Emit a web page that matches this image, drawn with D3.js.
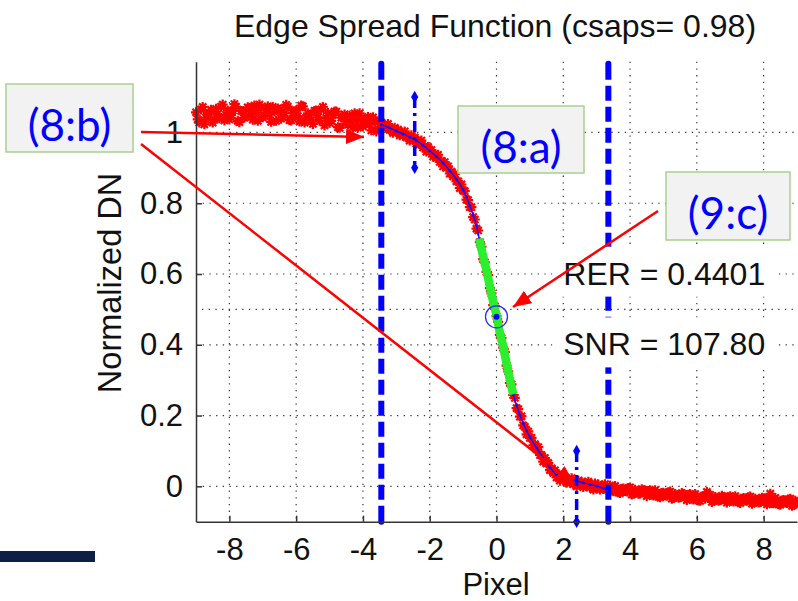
<!DOCTYPE html>
<html>
<head>
<meta charset="utf-8">
<script src="https://cdn.jsdelivr.net/npm/d3@7"></script>
<style>
  body { margin: 0; background: #fff; }
  svg { display: block; }
</style>
</head>
<body>
<svg id="chart" width="798" height="601"></svg>
<script>
// ── Data ──────────────────────────────────────────────────
const xTicks = [-8, -6, -4, -2, 0, 2, 4, 6, 8];
const xTickLabels = ["-8", "-6", "-4", "-2", "0", "2", "4", "6", "8"];
const yTicks = [0, 0.2, 0.4, 0.6, 0.8, 1];
const yTickLabels = ["0", "0.2", "0.4", "0.6", "0.8", "1"];

// noisy ESF samples, left plateau (two interleaved passes)
const esfLeftA = [
  [-9.0,1.057],[-8.9,1.028],[-8.8,1.072],[-8.7,1.042],[-8.6,1.052],[-8.5,1.028],[-8.4,1.067],[-8.3,1.040],
  [-8.2,1.079],[-8.1,1.050],[-8.0,1.037],[-7.9,1.062],[-7.8,1.073],[-7.7,1.029],[-7.6,1.060],[-7.5,1.046],
  [-7.4,1.069],[-7.3,1.036],[-7.2,1.057],[-7.1,1.079],[-7.0,1.043],[-6.9,1.063],[-6.8,1.051],[-6.7,1.072],
  [-6.6,1.033],[-6.5,1.064],[-6.4,1.045],[-6.3,1.078],[-6.2,1.035],[-6.1,1.055],[-6.0,1.062],[-5.9,1.031],
  [-5.8,1.074],[-5.7,1.042],[-5.6,1.050],[-5.5,1.024],[-5.4,1.062],[-5.3,1.033],[-5.2,1.072],[-5.1,1.041],
  [-5.0,1.027],[-4.9,1.050],[-4.8,1.059],[-4.7,1.013],[-4.6,1.043],[-4.5,1.026],[-4.4,1.048],[-4.3,1.014],
  [-4.2,1.033],[-4.1,1.054],[-4.0,1.017],[-3.9,1.036],[-3.8,1.023],[-3.7,1.043],[-3.6,1.003],[-3.5,1.033]
];
const esfLeftB = [
  [-8.95,1.037],[-8.85,1.065],[-8.75,1.023],[-8.65,1.053],[-8.55,1.064],[-8.45,1.037],[-8.35,1.052],[-8.25,1.073],
  [-8.15,1.034],[-8.05,1.062],[-7.95,1.049],[-7.85,1.080],[-7.75,1.033],[-7.65,1.061],[-7.55,1.042],[-7.45,1.071],
  [-7.35,1.054],[-7.25,1.076],[-7.15,1.033],[-7.05,1.069],[-6.95,1.047],[-6.85,1.074],[-6.75,1.030],[-6.65,1.059],
  [-6.55,1.068],[-6.45,1.039],[-6.35,1.054],[-6.25,1.073],[-6.15,1.034],[-6.05,1.060],[-5.95,1.046],[-5.85,1.076],
  [-5.75,1.028],[-5.65,1.054],[-5.55,1.034],[-5.45,1.061],[-5.35,1.043],[-5.25,1.065],[-5.15,1.020],[-5.05,1.055],
  [-4.95,1.033],[-4.85,1.059],[-4.75,1.015],[-4.65,1.042],[-4.55,1.051],[-4.45,1.022],[-4.35,1.035],[-4.25,1.054],
  [-4.15,1.014],[-4.05,1.040],[-3.95,1.026],[-3.85,1.044],[-3.75,1.006],[-3.65,1.031],[-3.55,1.011]
];
// edge transition
const esfMid = [
  [-3.45,1.028],[-3.40,1.012],[-3.35,1.021],[-3.30,1.013],[-3.25,1.024],[-3.20,1.007],[-3.15,1.012],[-3.10,0.999],
  [-3.05,1.013],[-3.00,1.002],[-2.95,1.008],[-2.90,0.992],[-2.85,1.001],[-2.80,0.992],[-2.75,1.003],[-2.70,0.986],
  [-2.65,0.990],[-2.60,0.977],[-2.55,0.992],[-2.50,0.980],[-2.45,0.986],[-2.40,0.969],[-2.35,0.977],[-2.30,0.967],
  [-2.25,0.977],[-2.20,0.958],[-2.15,0.961],[-2.10,0.946],[-2.05,0.959],[-2.00,0.946],[-1.95,0.950],[-1.90,0.932],
  [-1.85,0.939],[-1.80,0.928],[-1.75,0.937],[-1.70,0.917],[-1.65,0.920],[-1.60,0.904],[-1.55,0.916],[-1.50,0.901],
  [-1.45,0.904],[-1.40,0.884],[-1.35,0.889],[-1.30,0.876],[-1.25,0.883],[-1.20,0.862],[-1.15,0.862],[-1.10,0.843],
  [-1.05,0.853],[-1.00,0.836],[-0.95,0.834],[-0.90,0.810],[-0.85,0.809],[-0.80,0.789],[-0.75,0.789],[-0.70,0.761],
  [-0.65,0.754],[-0.60,0.728],[-0.55,0.723],[-0.50,0.690],[-0.45,0.677],[-0.40,0.642],[-0.35,0.633],[-0.30,0.606],
  [-0.25,0.597],[-0.20,0.560],[-0.15,0.545],[-0.10,0.512],[-0.05,0.509],[0.00,0.481],[0.05,0.465],[0.10,0.428],
  [0.15,0.419],[0.20,0.392],[0.25,0.380],[0.30,0.341],[0.35,0.325],[0.40,0.292],[0.45,0.288],[0.50,0.258],
  [0.55,0.250],[0.60,0.221],[0.65,0.218],[0.70,0.197],[0.75,0.198],[0.80,0.172],[0.85,0.168],[0.90,0.147],
  [0.95,0.155],[1.00,0.137],[1.05,0.137],[1.10,0.116],[1.15,0.119],[1.20,0.105],[1.25,0.111],[1.30,0.089],
  [1.35,0.088],[1.40,0.070],[1.45,0.080],[1.50,0.065],[1.55,0.066],[1.60,0.046],[1.65,0.051],[1.70,0.038],
  [1.75,0.045],[1.80,0.025],[1.85,0.030],[1.90,0.016],[1.95,0.031],[2.00,0.020],[2.05,0.026],[2.10,0.010],
  [2.15,0.019],[2.20,0.011],[2.25,0.023],[2.30,0.006],[2.35,0.012],[2.40,0.000],[2.45,0.016],[2.50,0.006],
  [2.55,0.013],[2.60,-0.002],[2.65,0.008],[2.70,0.000],[2.75,0.013],[2.80,-0.003],[2.85,0.003],[2.90,-0.009],
  [2.95,0.008],[3.00,-0.002],[3.05,0.005],[3.10,-0.009],[3.15,0.001],[3.20,-0.007],[3.25,0.006],[3.30,-0.010]
];
// right plateau (two interleaved passes)
const esfRightA = [
  [3.4,0.002],[3.5,-0.014],[3.6,-0.007],[3.7,-0.019],[3.8,-0.006],[3.9,-0.015],[4.0,-0.003],[4.1,-0.021],
  [4.2,-0.014],[4.3,-0.020],[4.4,-0.011],[4.5,-0.028],[4.6,-0.011],[4.7,-0.026],[4.8,-0.019],[4.9,-0.031],
  [5.0,-0.018],[5.1,-0.027],[5.2,-0.015],[5.3,-0.033],[5.4,-0.025],[5.5,-0.031],[5.6,-0.022],[5.7,-0.039],
  [5.8,-0.022],[5.9,-0.037],[6.0,-0.030],[6.1,-0.041],[6.2,-0.028],[6.3,-0.016],[6.4,-0.024],[6.5,-0.041],
  [6.6,-0.034],[6.7,-0.039],[6.8,-0.030],[6.9,-0.046],[7.0,-0.028],[7.1,-0.043],[7.2,-0.035],[7.3,-0.047],
  [7.4,-0.033],[7.5,-0.041],[7.6,-0.029],[7.7,-0.046],[7.8,-0.039],[7.9,-0.044],[8.0,-0.034],[8.1,-0.051],
  [8.2,-0.021],[8.3,-0.048],[8.4,-0.041],[8.5,-0.052],[8.6,-0.039],[8.7,-0.047],[8.8,-0.035],[8.9,-0.052],
  [9.0,-0.045]
];
const esfRightB = [
  [3.45,-0.012],[3.55,0.001],[3.65,-0.017],[3.75,-0.007],[3.85,-0.013],[3.95,-0.005],[4.05,-0.023],[4.15,-0.010],
  [4.25,-0.021],[4.35,-0.008],[4.45,-0.018],[4.55,-0.013],[4.65,-0.024],[4.75,-0.011],[4.85,-0.029],[4.95,-0.019],
  [5.05,-0.025],[5.15,-0.017],[5.25,-0.035],[5.35,-0.022],[5.45,-0.032],[5.55,-0.019],[5.65,-0.029],[5.75,-0.024],
  [5.85,-0.035],[5.95,-0.022],[6.05,-0.040],[6.15,-0.029],[6.25,-0.035],[6.35,-0.026],[6.45,-0.044],[6.55,-0.030],
  [6.65,-0.041],[6.75,-0.027],[6.85,-0.037],[6.95,-0.031],[7.05,-0.041],[7.15,-0.028],[7.25,-0.045],[7.35,-0.035],
  [7.45,-0.040],[7.55,-0.031],[7.65,-0.049],[7.75,-0.035],[7.85,-0.046],[7.95,-0.032],[8.05,-0.041],[8.15,-0.036],
  [8.25,-0.047],[8.35,-0.033],[8.45,-0.051],[8.55,-0.040],[8.65,-0.046],[8.75,-0.037],[8.85,-0.055],[8.95,-0.041]
];

// smoothing-spline fit (blue) between the two edge limits
const fitX = [-3.45,-3.2,-3.0,-2.8,-2.6,-2.4,-2.2,-2.0,-1.8,-1.6,-1.4,-1.2,-1.0,-0.9,-0.8,-0.7,-0.6,-0.5,-0.4,-0.3,
  -0.2,-0.1,0,0.1,0.2,0.3,0.4,0.5,0.6,0.7,0.8,0.9,1.0,1.2,1.4,1.6,1.8,2.0,2.2,2.4,2.6,2.8,3.0,3.2,3.35];
const fitY = [1.022,1.013,1.004,0.996,0.987,0.977,0.964,0.948,0.932,0.914,0.892,0.868,0.838,0.818,0.793,0.767,0.738,0.692,0.650,0.610,
  0.566,0.522,0.483,0.436,0.396,0.347,0.302,0.260,0.229,0.201,0.178,0.157,0.139,0.109,0.080,0.054,0.031,0.022,0.019,0.015,0.010,0.005,0.001,-0.005,-0.009];

// green slope segment used for RER
const slopeX = [-0.52,-0.5,-0.4,-0.3,-0.2,-0.1,0,0.1,0.2,0.3,0.4,0.5];
const slopeY = [0.700,0.692,0.650,0.610,0.566,0.522,0.483,0.436,0.396,0.347,0.302,0.260];

// edge limits (thick dashed) and ±0.1 markers (dash-dot)
const edgeLimits = [-3.45, 3.35];
const checkMarks = [{ x: -2.45, y0: 0.9, y1: 1.1 }, { x: 2.4, y0: -0.1, y1: 0.1 }];
const midPoint = { x: 0, y: 0.479 };

const metricLabels = ["RER = 0.4401", "SNR = 107.80"];
const metricY = [0.57, 0.37];

// ── Setup ─────────────────────────────────────────────────
const svg = d3.select("#chart");
const FONT = "'Liberation Sans', Arial, Helvetica, sans-serif";

const x = d3.scaleLinear().domain([-9, 9]).range([196, 797]);
const y = d3.scaleLinear().domain([-0.1, 1.2]).range([521.7, 61.7]);
const [x0, x1] = x.range();
const [yb, yt] = y.range();

// ── Dotted grid ──────────────────────────────────────────
const grid = svg.append("g").attr("stroke", "#333").attr("stroke-width", 1.2)
  .attr("stroke-dasharray", "1.3,5.4");
xTicks.forEach(t => grid.append("line")
  .attr("x1", x(t)).attr("x2", x(t)).attr("y1", yt).attr("y2", yb));
yTicks.forEach(t => grid.append("line")
  .attr("x1", x0).attr("x2", x1).attr("y1", y(t)).attr("y2", y(t)));
// 50% reference line
grid.append("line").attr("x1", x0 + 6).attr("x2", x1)
  .attr("y1", y(0.5)).attr("y2", y(0.5));

// ── ESF samples (red asterisks) ──────────────────────────
const star = "M-5,0H5M0,-5V5M-3.6,-3.6L3.6,3.6M-3.6,3.6L3.6,-3.6";
const samples = [...esfLeftA, ...esfLeftB, ...esfMid, ...esfRightA, ...esfRightB];
svg.append("g").selectAll("path").data(samples).join("path")
  .attr("transform", d => `translate(${x(d[0])},${y(d[1])})`)
  .attr("d", star)
  .attr("stroke", "#ff0000").attr("stroke-width", 2.2).attr("fill", "none");

// ── Fit curve ─────────────────────────────────────────────
const fitPts = fitX.map((v, i) => [v, fitY[i]]);
const line = d3.line().x(d => x(d[0])).y(d => y(d[1])).curve(d3.curveMonotoneX);
svg.append("path").datum(fitPts).attr("d", line)
  .attr("fill", "none").attr("stroke", "#1010ff").attr("stroke-width", 1.5);
svg.append("g").selectAll("circle").data(fitPts).join("circle")
  .attr("cx", d => x(d[0])).attr("cy", d => y(d[1])).attr("r", 1.5).attr("fill", "#1010ff");

// green slope section
const slopePts = slopeX.map((v, i) => [v, slopeY[i]]);
svg.append("path").datum(slopePts).attr("d", line)
  .attr("fill", "none").attr("stroke", "#2bef2b").attr("stroke-width", 8.5)
  .attr("stroke-linecap", "butt");

// circle at 50% point
svg.append("circle").attr("cx", x(midPoint.x)).attr("cy", y(midPoint.y)).attr("r", 11)
  .attr("fill", "none").attr("stroke", "#2a2aff").attr("stroke-width", 1.3);
svg.append("circle").attr("cx", x(midPoint.x)).attr("cy", y(midPoint.y)).attr("r", 3)
  .attr("fill", "#0000ff");

// ── Edge limits (thick dashed) ───────────────────────────
edgeLimits.forEach(v => {
  svg.append("line").attr("x1", x(v)).attr("x2", x(v)).attr("y1", yt + 3).attr("y2", yb)
    .attr("stroke", "#0000ff").attr("stroke-width", 6).attr("stroke-dasharray", "15,6");
  [yt + 2, yb].forEach(cy => svg.append("circle")
    .attr("cx", x(v)).attr("cy", cy).attr("r", 3).attr("fill", "#0000ff"));
});

// ±0.1 dash-dot markers with diamonds
const diamond = d3.symbol().type(d3.symbolDiamond).size(45);
checkMarks.forEach(m => {
  svg.append("line").attr("x1", x(m.x)).attr("x2", x(m.x))
    .attr("y1", y(m.y1)).attr("y2", y(m.y0))
    .attr("stroke", "#0000ff").attr("stroke-width", 3.5).attr("stroke-dasharray", "11,5,3,5");
  [m.y0, m.y1].forEach(v => svg.append("path").attr("d", diamond)
    .attr("transform", `translate(${x(m.x)},${y(v)})`).attr("fill", "#0000ff"));
});

// ── Axes ─────────────────────────────────────────────────
const xAxis = svg.append("g").attr("transform", `translate(0,${yb})`)
  .call(d3.axisBottom(x).tickValues(xTicks).tickFormat((d, i) => xTickLabels[i])
    .tickSizeInner(-6).tickSizeOuter(0).tickPadding(16));
const yAxis = svg.append("g").attr("transform", `translate(${x0},0)`)
  .call(d3.axisLeft(y).tickValues(yTicks).tickFormat((d, i) => yTickLabels[i])
    .tickSizeInner(-6).tickSizeOuter(0).tickPadding(13));
[xAxis, yAxis].forEach(ax => {
  ax.select(".domain").attr("stroke", "#333").attr("stroke-width", 1.5);
  ax.selectAll(".tick line").attr("stroke", "#333").attr("stroke-width", 1.5);
  ax.selectAll("text").attr("font-family", FONT).attr("font-size", 31).attr("fill", "#111");
});

// titles
svg.append("text").attr("x", 495).attr("y", 37).attr("text-anchor", "middle")
  .attr("font-family", FONT).attr("font-size", 32).attr("fill", "#111")
  .text("Edge Spread Function (csaps= 0.98)");
svg.append("text").attr("x", 496).attr("y", 595).attr("text-anchor", "middle")
  .attr("font-family", FONT).attr("font-size", 31).attr("fill", "#111")
  .text("Pixel");
svg.append("text").attr("transform", "translate(121,283) rotate(-90)").attr("text-anchor", "middle")
  .attr("font-family", FONT).attr("font-size", 32.5).attr("fill", "#111")
  .text("Normalized DN");

// ── RER / SNR labels on white background ─────────────────
metricLabels.forEach((label, i) => {
  const g = svg.append("g");
  const bg = g.append("rect").attr("fill", "#fff");
  const t = g.append("text").attr("x", x(2.0)).attr("y", y(metricY[i]))
    .attr("font-family", FONT).attr("font-size", 32).attr("fill", "#111").text(label);
  const w = t.node().getComputedTextLength();
  bg.attr("x", x(2.0) - 11).attr("y", y(metricY[i]) - 38)
    .attr("width", w + 24).attr("height", 50);
});

// ── Call-out boxes and arrows ────────────────────────────
svg.append("defs").append("marker").attr("id", "head")
  .attr("viewBox", "0 0 18 15").attr("refX", 18).attr("refY", 7.5)
  .attr("markerWidth", 18).attr("markerHeight", 15).attr("markerUnits", "userSpaceOnUse")
  .attr("orient", "auto")
  .append("path").attr("d", "M0,0L18,7.5L0,15Z").attr("fill", "#ff0000");

const arrows = [
  [141, 132, 364, 137],
  [141, 144, 574, 483],
  [658, 211, 513, 307]
];
arrows.forEach(a => svg.append("line")
  .attr("x1", a[0]).attr("y1", a[1]).attr("x2", a[2]).attr("y2", a[3])
  .attr("stroke", "#ff0000").attr("stroke-width", 2.5).attr("marker-end", "url(#head)"));

const callouts = [
  { label: "(8:b)", x: 6, y: 84, w: 127, h: 68 },
  { label: "(8:a)", x: 458, y: 106, w: 126, h: 67 },
  { label: "(9:c)", x: 666, y: 172, w: 124, h: 68 }
];
callouts.forEach(c => {
  svg.append("rect").attr("x", c.x).attr("y", c.y).attr("width", c.w).attr("height", c.h)
    .attr("fill", "#f2f2f2").attr("stroke", "#a9d18e").attr("stroke-width", 1.5);
  svg.append("text").attr("x", c.x + c.w / 2).attr("y", c.y + c.h / 2 + 23)
    .attr("text-anchor", "middle").attr("font-family", "Lato, 'Open Sans', sans-serif")
    .attr("font-size", 44).attr("fill", "#0000ff").text(c.label);
});

// slide decoration bar
svg.append("rect").attr("x", 0).attr("y", 551).attr("width", 95).attr("height", 11)
  .attr("fill", "#0d1f44");
</script>
</body>
</html>
